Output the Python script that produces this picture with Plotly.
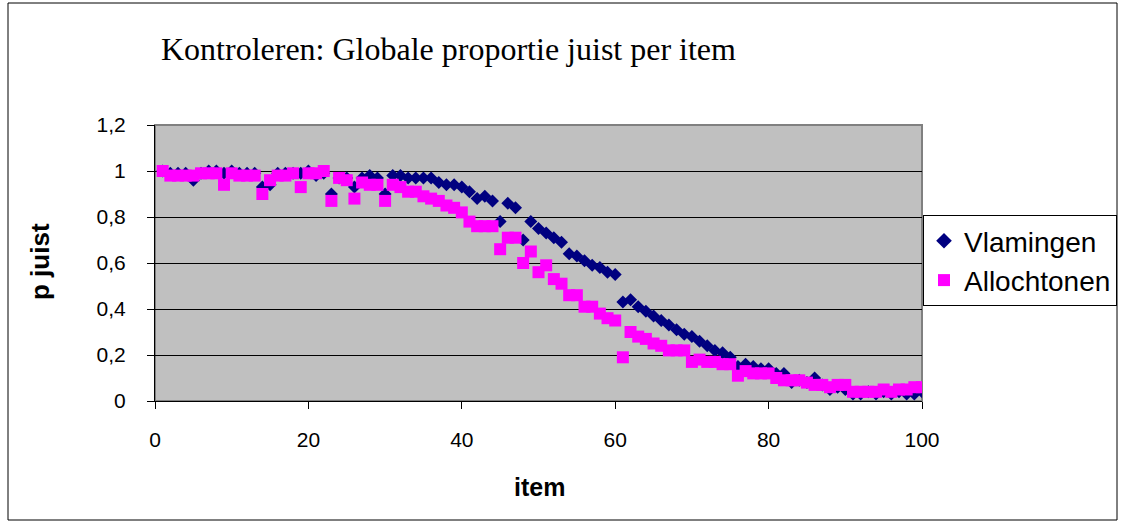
import plotly.graph_objects as go

items = list(range(1, 101))

vlamingen = [
    1.00, 0.99, 0.99, 0.99, 0.96, 0.99, 1.00, 1.00, 0.99, 1.00,
    0.99, 0.99, 0.99, 0.93, 0.94, 0.99, 0.99, 0.99, 0.99, 1.00,
    0.98, 0.99, 0.90, 0.97, 0.97, 0.93, 0.97, 0.98, 0.97, 0.90,
    0.98, 0.98, 0.97, 0.97, 0.97, 0.97, 0.95, 0.94, 0.94, 0.93,
    0.91, 0.88, 0.89, 0.87, 0.78, 0.86, 0.84, 0.70, 0.78, 0.75,
    0.73, 0.71, 0.69, 0.64, 0.63, 0.61, 0.59, 0.58, 0.56, 0.55,
    0.43, 0.44, 0.41, 0.39, 0.37, 0.35, 0.33, 0.31, 0.29, 0.28,
    0.26, 0.24, 0.22, 0.21, 0.19, 0.15, 0.16, 0.15, 0.14, 0.14,
    0.12, 0.12, 0.08, 0.09, 0.08, 0.10, 0.07, 0.05, 0.06, 0.05,
    0.03, 0.03, 0.04, 0.03, 0.04, 0.03, 0.04, 0.03, 0.03, 0.04,
]

allochtonen = [
    1.00, 0.98, 0.98, 0.98, 0.98, 0.99, 0.99, 0.99, 0.94, 0.99,
    0.98, 0.98, 0.98, 0.90, 0.96, 0.98, 0.98, 0.99, 0.93, 0.99,
    0.99, 1.00, 0.87, 0.97, 0.96, 0.88, 0.95, 0.94, 0.94, 0.87,
    0.94, 0.93, 0.91, 0.91, 0.89, 0.88, 0.87, 0.85, 0.84, 0.82,
    0.78, 0.76, 0.76, 0.76, 0.66, 0.71, 0.71, 0.60, 0.65, 0.56,
    0.59, 0.53, 0.51, 0.46, 0.46, 0.41, 0.41, 0.38, 0.36, 0.35,
    0.19, 0.30, 0.28, 0.27, 0.25, 0.24, 0.22, 0.22, 0.22, 0.17,
    0.18, 0.17, 0.17, 0.16, 0.16, 0.11, 0.13, 0.12, 0.12, 0.12,
    0.10, 0.09, 0.09, 0.09, 0.08, 0.07, 0.07, 0.06, 0.07, 0.07,
    0.04, 0.04, 0.04, 0.04, 0.05, 0.04, 0.05, 0.05, 0.06, 0.06,
]

title_text = "Kontroleren: Globale proportie juist per item"
x_title = "item"
y_title = "p juist"

# plot area in pixels
L, R, T, B = 155, 922, 125, 401
W, H = 1125, 527
pw, ph = R - L, B - T

def px(x):
    return (x - L) / pw

def py(y):
    return (B - y) / ph

fig = go.Figure()
fig.add_trace(go.Scatter(
    x=items, y=vlamingen, mode="markers", name="Vlamingen",
    legendgroup="a",
    marker=dict(symbol="diamond", size=10, color="#000080", line=dict(width=0)),
))
fig.add_trace(go.Scatter(
    x=items, y=allochtonen, mode="markers", name="Allochtonen",
    legendgroup="b",
    marker=dict(symbol="square", size=12, color="#FF00FF", line=dict(width=0)),
))

axis_font = dict(family="Liberation Sans, Arial, sans-serif", size=21, color="black")

fig.update_layout(
    width=W, height=H,
    margin=dict(l=L, r=W - R, t=T, b=H - B, pad=0, autoexpand=False),
    paper_bgcolor="white",
    plot_bgcolor="#C0C0C0",
    separators=",.",
    showlegend=True,
    legend=dict(
        x=px(923), y=py(215), xanchor="left", yanchor="top",
        bgcolor="white", bordercolor="black", borderwidth=1,
        font=dict(family="Liberation Sans, Arial, sans-serif", size=28, color="black"),
        tracegroupgap=0,
        itemsizing="constant",
    ),
    xaxis=dict(
        range=[0, 100], tickvals=[0, 20, 40, 60, 80, 100],
        showgrid=False, zeroline=False,
        showline=True, linecolor="black", linewidth=1,
        ticks="outside", ticklen=7, tickcolor="black",
        tickfont=axis_font, ticklabelstandoff=13,
    ),
    yaxis=dict(
        range=[0, 1.2], tickvals=[0, 0.2, 0.4, 0.6, 0.8, 1.0, 1.2],
        showgrid=True, gridcolor="black", gridwidth=1,
        zeroline=False,
        showline=True, linecolor="black", linewidth=1,
        ticks="outside", ticklen=7, tickcolor="black",
        tickfont=axis_font, ticklabelstandoff=17,
    ),
    shapes=[
        dict(type="rect", xref="paper", yref="paper", x0=0, x1=1, y0=0, y1=1,
             line=dict(color="#808080", width=2), layer="below"),
        dict(type="rect", xref="paper", yref="paper",
             x0=px(8), x1=px(1117), y0=py(520), y1=py(3),
             line=dict(color="black", width=1), layer="below"),
    ],
    annotations=[
        dict(text=title_text, xref="paper", yref="paper", x=px(159), y=py(49),
             xanchor="left", yanchor="middle", showarrow=False,
             font=dict(family="Liberation Serif, Times New Roman, serif", size=32, color="black")),
        dict(text="<b>" + x_title + "</b>", xref="paper", yref="paper", x=px(539), y=py(487),
             xanchor="center", yanchor="middle", showarrow=False,
             font=dict(family="Liberation Sans, Arial, sans-serif", size=25, color="black")),
        dict(text="<b>" + y_title + "</b>", xref="paper", yref="paper", x=px(40), y=py(261),
             xanchor="center", yanchor="middle", showarrow=False, textangle=-90,
             font=dict(family="Liberation Sans, Arial, sans-serif", size=26, color="black")),
    ],
)

fig.write_html("out.html")
